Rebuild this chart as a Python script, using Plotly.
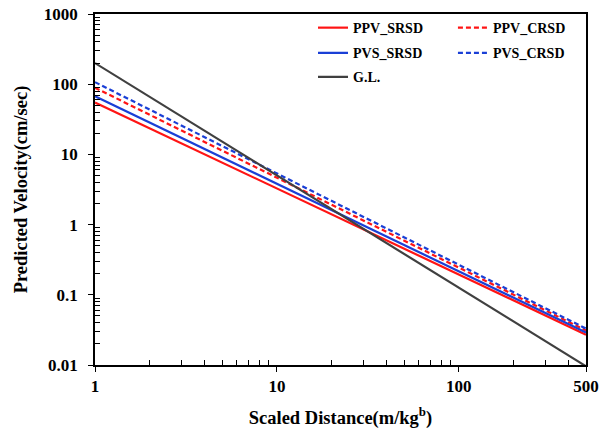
import plotly.graph_objects as go

# Scaled distance endpoints (m/kg^b) and predicted velocities
distance = [1, 500]
ppv_srsd = [55, 0.027]
ppv_crsd = [89, 0.031]
pvs_srsd = [67.5, 0.029]
pvs_crsd = [107, 0.033]
gl = [200, 0.0096]

x_ticks = [1, 10, 100, 500]
y_ticks = [0.01, 0.1, 1, 10, 100, 1000]
y_tick_text = ["0.01", "0.1", "1", "10", "100", "1000"]

RED = "#ff1414"
BLUE = "#1a3fd6"
GRAY = "#404040"
FONT = "Liberation Serif"
DASH = "5px,3px"

# legend slot (column x, row y in paper coords) for each series
series = [
    ("PPV_SRSD", ppv_srsd, RED, "solid", 0.444, 0.96),
    ("PPV_CRSD", ppv_crsd, RED, DASH, 0.729, 0.96),
    ("PVS_SRSD", pvs_srsd, BLUE, "solid", 0.444, 0.888),
    ("PVS_CRSD", pvs_crsd, BLUE, DASH, 0.729, 0.888),
    ("G.L.", gl, GRAY, "solid", 0.444, 0.82),
]

fig = go.Figure()
legends = {}
for i, (name, vals, col, dash, lx, ly) in enumerate(series):
    key = "legend" if i == 0 else f"legend{i + 1}"
    fig.add_trace(go.Scatter(
        x=distance, y=vals, mode="lines", name=name,
        line=dict(color=col, width=2.2, dash=dash),
        legend=key,
    ))
    legends[key] = dict(
        x=lx, y=ly, xanchor="left", yanchor="middle",
        font=dict(family=FONT, size=14, color="black", weight="bold"),
        bgcolor="rgba(0,0,0,0)", borderwidth=0, itemwidth=30,
    )

minor_x = [2, 3, 4, 5, 6, 7, 8, 9, 20, 30, 40, 50, 60, 70, 80, 90, 200, 300, 400]
minor_y = [m * 10 ** e for e in range(-2, 3) for m in range(2, 10)]

fig.update_layout(
    width=602, height=429,
    margin=dict(l=95, r=16, t=14, b=64, autoexpand=False),
    paper_bgcolor="white", plot_bgcolor="white",
    font=dict(family=FONT, color="black"),
    showlegend=True,
    **legends,
    xaxis=dict(
        type="log", range=[0, 2.69897],
        tickmode="array", tickvals=x_ticks, ticktext=[str(v) for v in x_ticks],
        ticks="outside", ticklen=5, tickwidth=1.2, tickcolor="black",
        ticklabeloverflow="allow",
        minor=dict(tickmode="array", tickvals=minor_x, ticks="inside",
                   ticklen=5, tickwidth=1, tickcolor="black"),
        showline=True, linecolor="black", linewidth=1.5, mirror=True,
        showgrid=False, zeroline=False,
        tickfont=dict(family=FONT, size=17, color="black", weight="bold"),
        title=dict(text="Scaled Distance(m/kg<sup>b</sup>)", standoff=25,
                   font=dict(family=FONT, size=18.5, color="black", weight="bold")),
    ),
    yaxis=dict(
        type="log", range=[-2, 3],
        tickmode="array", tickvals=y_ticks, ticktext=y_tick_text,
        ticks="outside", ticklen=5, tickwidth=1.2, tickcolor="black",
        ticklabelstandoff=7, ticklabeloverflow="allow",
        minor=dict(tickmode="array", tickvals=minor_y, ticks="inside",
                   ticklen=5, tickwidth=1, tickcolor="black"),
        showline=True, linecolor="black", linewidth=1.5, mirror=True,
        showgrid=False, zeroline=False,
        tickfont=dict(family=FONT, size=17, color="black", weight="bold"),
        title=dict(text="Predicted Velocity(cm/sec)", standoff=11,
                   font=dict(family=FONT, size=18.5, color="black", weight="bold")),
    ),
)

# remove the default page margin so the figure fills the window exactly
fig.write_html("out.html",
               config={"displayModeBar": False},
               post_script="document.body.style.margin='0';")
